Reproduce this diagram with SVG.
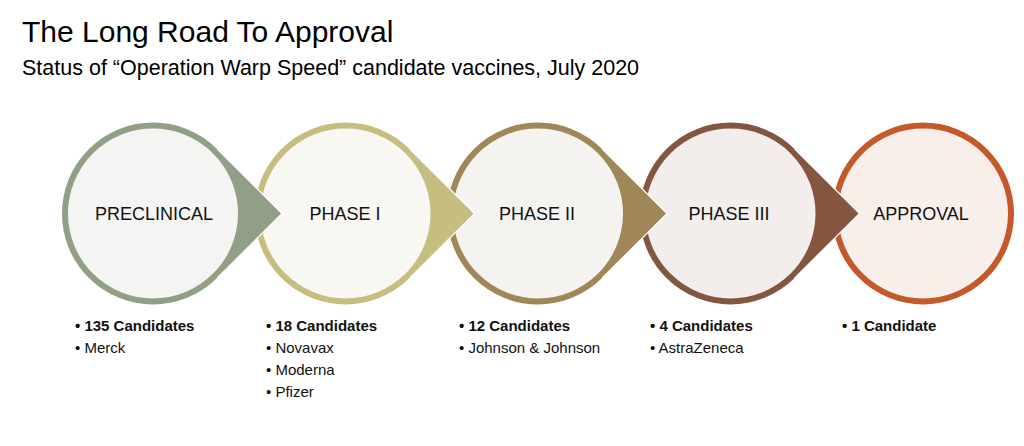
<svg xmlns="http://www.w3.org/2000/svg" width="1024" height="446" viewBox="0 0 1024 446">
  <style>
    .title { font-family: "Liberation Sans", Arial, sans-serif; font-size: 30px; fill: #000; }
    .sub { font-family: "Liberation Sans", Arial, sans-serif; font-size: 21.5px; fill: #000; }
    .lbl { font-family: "Liberation Sans", Arial, sans-serif; font-size: 18px; fill: #111; text-anchor: middle; }
    .b { font-family: "Liberation Sans", Arial, sans-serif; font-size: 15px; fill: #111; }
    .bb { font-weight: bold; }
    .ring { stroke-width: 6; }
    .edge { fill: none; stroke: #fff; stroke-width: 1.2; stroke-linejoin: miter; }
  </style>
  <rect width="1024" height="446" fill="#fff"/>
  <text class="title" x="22" y="42">The Long Road To Approval</text>
  <text class="sub" x="22" y="75">Status of “Operation Warp Speed” candidate vaccines, July 2020</text>

  <g id="node-approval">
    <circle class="ring" cx="923" cy="213.5" r="88" fill="#F8EEEA" stroke="#C45A2B"/>
    <text class="lbl" x="921" y="220">APPROVAL</text>
    <text class="b bb" x="842" y="331">• 1 Candidate</text>
  </g>
  <g id="node-phase3">
    <circle class="ring" cx="730.5" cy="213.5" r="88" fill="#F3EDEB" stroke="#845640"/>
    <text class="lbl" x="729" y="220">PHASE III</text>
    <text class="b bb" x="650" y="331">• 4 Candidates</text>
    <text class="b" x="650" y="353">• AstraZeneca</text>
  </g>
  <g id="node-phase2">
    <circle class="ring" cx="538" cy="213.5" r="88" fill="#F4F3F0" stroke="#A08758"/>
    <text class="lbl" x="537" y="220">PHASE II</text>
    <text class="b bb" x="459" y="331">• 12 Candidates</text>
    <text class="b" x="459" y="353">• Johnson &amp; Johnson</text>
  </g>
  <g id="node-phase1">
    <circle class="ring" cx="345.5" cy="213.5" r="88" fill="#F8F7F2" stroke="#C6BE80"/>
    <text class="lbl" x="345" y="220">PHASE I</text>
    <text class="b bb" x="266" y="331">• 18 Candidates</text>
    <text class="b" x="266" y="353">• Novavax</text>
    <text class="b" x="266" y="375">• Moderna</text>
    <text class="b" x="266" y="397">• Pfizer</text>
  </g>
  <g id="node-preclinical">
    <circle class="ring" cx="153" cy="213.5" r="88" fill="#F4F5F3" stroke="#909F86"/>
    <text class="lbl" x="154" y="220">PRECLINICAL</text>
    <text class="b bb" x="75" y="331">• 135 Candidates</text>
    <text class="b" x="75" y="353">• Merck</text>
  </g>

  <g id="connectors">
    <path d="M217.2,149 L282,213.5 L217.2,278 L213.7,274.4 A86,86 0 0 0 213.7,152.6 Z" fill="#909F86"/>
    <polyline class="edge" points="217.2,149 282,213.5 217.2,278"/>
    <path d="M409.7,149 L474.5,213.5 L409.7,278 L406.2,274.4 A86,86 0 0 0 406.2,152.6 Z" fill="#C6BE80"/>
    <polyline class="edge" points="409.7,149 474.5,213.5 409.7,278"/>
    <path d="M602.2,149 L667,213.5 L602.2,278 L598.7,274.4 A86,86 0 0 0 598.7,152.6 Z" fill="#A08758"/>
    <polyline class="edge" points="602.2,149 667,213.5 602.2,278"/>
    <path d="M794.7,149 L859.5,213.5 L794.7,278 L791.2,274.4 A86,86 0 0 0 791.2,152.6 Z" fill="#845640"/>
    <polyline class="edge" points="794.7,149 859.5,213.5 794.7,278"/>
  </g>
</svg>
